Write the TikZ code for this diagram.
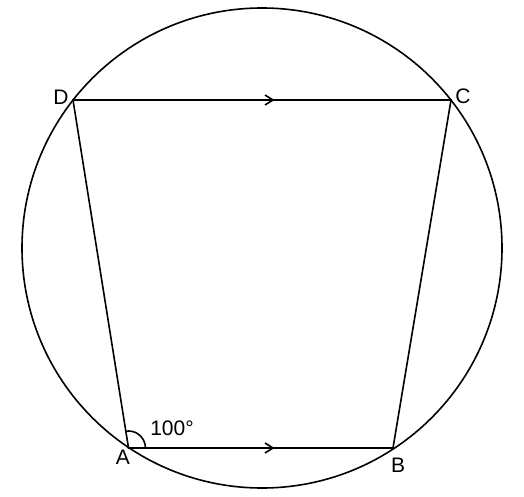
\documentclass[tikz,border=0pt]{standalone}
\usepackage{fontspec}
\setmainfont{Liberation Sans}
\usetikzlibrary{calc}
\begin{document}
\begin{tikzpicture}[x=1pt,y=-1pt,line width=1.6pt,
  lbl/.style={font=\fontsize{21}{24}\selectfont,inner sep=0pt},
  chev/.style={line width=1.6pt,line join=miter}]
\useasboundingbox (0,0) rectangle (524,497);
\coordinate (O) at (262,248);
\coordinate (A) at (128.5,448);
\coordinate (B) at (393,448);
\coordinate (C) at (451,100);
\coordinate (D) at (73,100);
\draw (O) circle (240);
\draw (A) -- (B) -- (C) -- (D) -- cycle;
% parallel marks
\draw[chev] (265,95) -- (273,100) -- (265,105);
\draw[chev] (265,443) -- (273,448) -- (265,453);
% angle arc
\draw ($(A)+(17,0)$) arc[start angle=0,end angle=-99,radius=17];
\node[lbl] (la) at (123,457) {A};
\node[lbl] (lb) at (398,465) {B};
\node[lbl] (lc) at (463,96) {C};
\node[lbl] (ld) at (61,97) {D};
\node[lbl] (ang) at (172,428) {100°};
\end{tikzpicture}
\end{document}
